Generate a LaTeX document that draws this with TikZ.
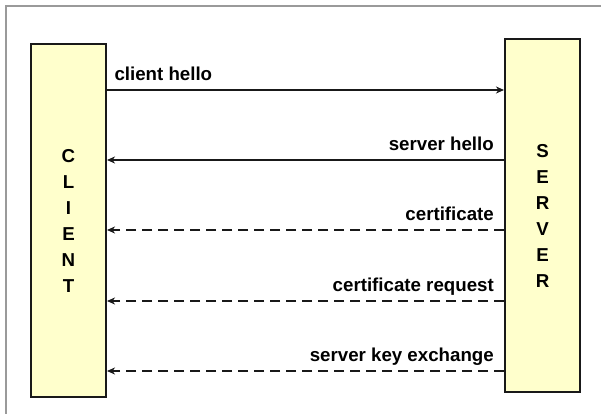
\documentclass[tikz,border=0pt]{standalone}
\usepackage{fontspec}
\setmainfont{Liberation Sans}
\usetikzlibrary{arrows.meta,calc}

\definecolor{boxfill}{HTML}{FFFFCC}
\definecolor{framegray}{HTML}{9A9A9A}

\tikzset{
  party/.style={draw=black!90, line width=2pt, fill=boxfill,
    minimum width=75pt, minimum height=353pt, inner sep=0pt},
  partyname/.style={align=center, inner sep=0pt,
    font=\fontsize{18.7}{26}\selectfont\bfseries},
  msg/.style={line width=1.8pt, black!90,
    -{Stealth[length=8pt,width=7pt,inset=2.5pt]}},
  optmsg/.style={msg, dash pattern=on 10pt off 6pt},
  lbl/.style={inner sep=0pt, font=\fontsize{18.7}{22}\selectfont\bfseries}
}

\begin{document}
\begin{tikzpicture}[x=1pt,y=-1pt]
  \useasboundingbox (0,0) rectangle (601,414);

  % page frame (only the left and top edges fall inside)
  \draw[framegray, line width=2pt] (5.5,414) -- (5.5,6.5) -- (601,6.5);

  % the two parties
  \node[party] (client) at (68.5,220.5) {};
  \node[party] (server) at (542.5,215.5) {};
  \node[partyname] (clientname) at (client.center) {C\\L\\I\\E\\N\\T};
  \node[partyname] (servername) at (server.center) {S\\E\\R\\V\\E\\R};

  % message heights
  \coordinate (m1) at (0,90);
  \coordinate (m2) at (0,160);
  \coordinate (m3) at (0,230);
  \coordinate (m4) at (0,301);
  \coordinate (m5) at (0,371);

  % messages
  \draw[msg] (client.east |- m1) -- (server.west |- m1);
  \draw[msg] (server.west |- m2) -- (client.east |- m2);
  \draw[optmsg] (server.west |- m3) -- (client.east |- m3);
  \draw[optmsg] (server.west |- m4) -- (client.east |- m4);
  \draw[optmsg] (server.west |- m5) -- (client.east |- m5);

  % message labels
  \node[lbl, anchor=base west] (l1) at ($(client.east |- m1)+(7.3,-9.5)$) {client hello};
  \node[lbl, anchor=base east] (l2) at ($(server.west |- m2)+(-10,-9.5)$) {server hello};
  \node[lbl, anchor=base east] (l3) at ($(server.west |- m3)+(-10,-9.5)$) {certificate};
  \node[lbl, anchor=base east] (l4) at ($(server.west |- m4)+(-10,-10)$) {certificate request};
  \node[lbl, anchor=base east] (l5) at ($(server.west |- m5)+(-10,-10)$) {server key exchange};
\end{tikzpicture}
\end{document}
